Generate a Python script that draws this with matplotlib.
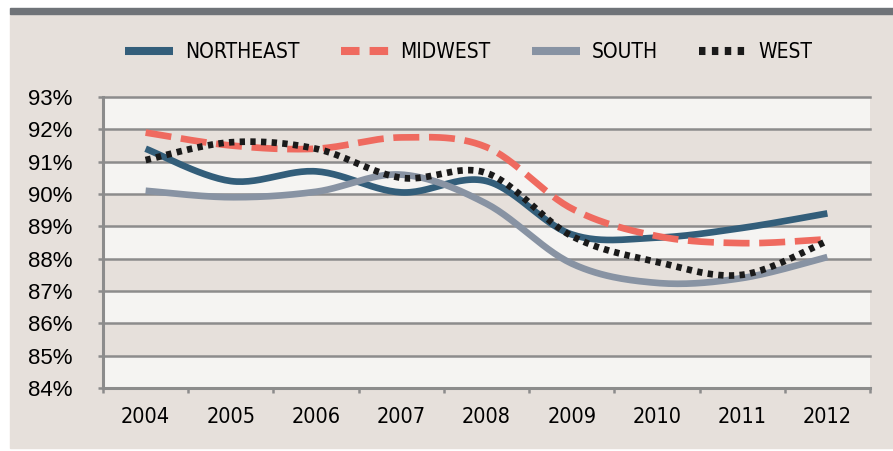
import numpy as np
import matplotlib
matplotlib.use("Agg")
import matplotlib.pyplot as plt
from matplotlib import font_manager
from matplotlib.patches import Rectangle
from matplotlib.lines import Line2D

years = ["2004", "2005", "2006", "2007", "2008", "2009", "2010", "2011", "2012"]
northeast = [91.4, 90.4, 90.7, 90.05, 90.4, 88.75, 88.65, 88.95, 89.4]
midwest = [91.9, 91.5, 91.4, 91.75, 91.45, 89.55, 88.7, 88.48, 88.6]
south = [90.1, 89.9, 90.07, 90.6, 89.7, 87.85, 87.25, 87.4, 88.05]
west = [91.05, 91.6, 91.4, 90.5, 90.65, 88.7, 87.9, 87.5, 88.55]

BEIGE = "#e6e0db"
PALE = "#f5f4f2"
GRID = "#8c8c8c"

plt.rcParams["font.family"] = ["Liberation Sans", "DejaVu Sans"]
XFONT = font_manager.FontProperties(family="DejaVu Sans", stretch="condensed", size=15.5)
LFONT = font_manager.FontProperties(family="DejaVu Sans", stretch="condensed", size=15)


def smooth(y, n=30):
    # Excel-like smoothed line: cubic Bezier with 1/6 neighbour tangents
    pts = np.column_stack([np.arange(len(y)), np.asarray(y, float)])
    ext = np.vstack([pts[0], pts, pts[-1]])
    out = []
    t = np.linspace(0, 1, n)[:, None]
    for i in range(len(pts) - 1):
        p0, p3 = ext[i + 1], ext[i + 2]
        p1 = p0 + (ext[i + 2] - ext[i]) / 6
        p2 = p3 - (ext[i + 3] - ext[i + 1]) / 6
        seg = ((1 - t) ** 3) * p0 + 3 * ((1 - t) ** 2) * t * p1 + 3 * (1 - t) * t ** 2 * p2 + t ** 3 * p3
        out.append(seg if i == 0 else seg[1:])
    out = np.vstack(out)
    return out[:, 0], out[:, 1]


fig = plt.figure(figsize=(8.93, 4.51), dpi=100, facecolor="white")
W, H = 893, 451
fig.patches.append(Rectangle((10 / W, 3 / H), 1 - 10 / W, (H - 14 - 3) / H,
                             transform=fig.transFigure, color=BEIGE, zorder=-5))
fig.patches.append(Rectangle((10 / W, (H - 14) / H), 1 - 10 / W, 6 / H,
                             transform=fig.transFigure, color="#6f7378", zorder=-5))

ax = fig.add_axes([103 / W, (H - 388) / H, (870 - 103) / W, (388 - 97) / H])
ax.set_zorder(2)
ax.set_facecolor(PALE)
for lo in (91, 89, 87, 85):
    ax.axhspan(lo, lo + 1, color=BEIGE, lw=0, zorder=0)
for v in range(85, 94):
    ax.axhline(v, color=GRID, lw=1.8, zorder=1, clip_on=False)

LW = 4.8
styles = [
    ("NORTHEAST", northeast, dict(color="#335e7a", ls="-")),
    ("MIDWEST", midwest, dict(color="#ef6a5f", ls=(0, (3.9, 1.45)))),
    ("SOUTH", south, dict(color="#8893a3", ls="-")),
    ("WEST", west, dict(color="#1a1a1a", ls=(0, (0.8, 0.8)))),
]
draw_order = [2, 0, 1, 3]
for i in draw_order:
    name, vals, st = styles[i]
    xs, ys = smooth(vals)
    ax.plot(xs, ys, lw=LW, solid_capstyle="butt", dash_capstyle="butt", zorder=3 + i, **st)

ax.set_xlim(-0.5, 8.5)
ax.set_ylim(84, 93)
ax.set_yticks(range(84, 94))
ax.set_yticklabels([f"{v}%" for v in range(84, 94)], fontsize=16)
ax.set_xticks(range(len(years)))
ax.set_xticklabels(years, fontproperties=XFONT)
ax.set_xticks(np.arange(-0.5, 9, 1), minor=True)
ax.tick_params(axis="x", which="major", length=0, pad=14)
ax.tick_params(axis="x", which="minor", length=3.6, width=1.8, color=GRID)
ax.tick_params(axis="y", length=3.6, width=1.8, color=GRID, pad=18.5)
for s in ("top", "right"):
    ax.spines[s].set_visible(False)
for s in ("left", "bottom"):
    ax.spines[s].set_color(GRID)
    ax.spines[s].set_linewidth(2.2)

leg_ls = {"MIDWEST": (0, (2.3, 1.25))}
handles = [Line2D([], [], lw=5.8, solid_capstyle="butt", dash_capstyle="butt",
                  color=st["color"], ls=leg_ls.get(name, st["ls"]))
           for name, _, st in styles]
fig.legend(handles, [s[0] for s in styles], loc="center", bbox_to_anchor=(469 / W, 1 - 52 / H),
           ncol=4, frameon=False, handlelength=2.3, columnspacing=2.0, handletextpad=0.55,
           prop=LFONT)

fig.savefig("out.png", dpi=100, facecolor="white")
